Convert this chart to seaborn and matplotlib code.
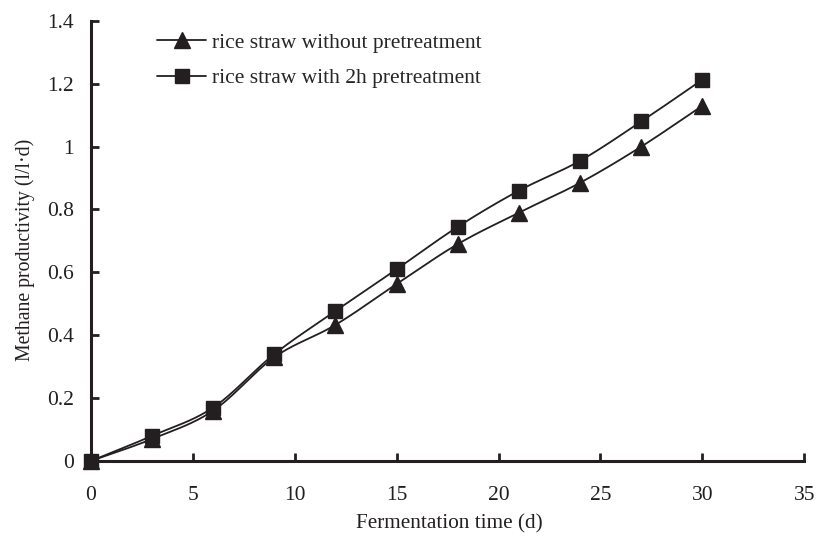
import numpy as np
import pandas as pd
import matplotlib
matplotlib.use("Agg")
import matplotlib.pyplot as plt
from matplotlib.lines import Line2D
import seaborn as sns

days = [0, 3, 6, 9, 12, 15, 18, 21, 24, 27, 30]
without_pretreatment = [0.0, 0.07, 0.16, 0.33, 0.433, 0.563, 0.69, 0.79, 0.885, 1.0, 1.13]
with_2h_pretreatment = [0.0, 0.08, 0.17, 0.34, 0.477, 0.61, 0.745, 0.86, 0.955, 1.08, 1.213]
labels = ["rice straw without pretreatment", "rice straw with 2h pretreatment"]
x_ticks = [0, 5, 10, 15, 20, 25, 30, 35]
y_ticks = [0, 0.2, 0.4, 0.6, 0.8, 1.0, 1.2, 1.4]
y_tick_labels = ["0", "0.2", "0.4", "0.6", "0.8", "1", "1.2", "1.4"]


def smooth(xs, ys, n=20):
    """Catmull-Rom curve through the points (spreadsheet-style smoothed line)."""
    x = np.asarray(xs, float)
    y = np.asarray(ys, float)
    px = np.concatenate([[2 * x[0] - x[1]], x, [2 * x[-1] - x[-2]]])
    py = np.concatenate([[2 * y[0] - y[1]], y, [2 * y[-1] - y[-2]]])
    outx, outy = [], []
    t = np.linspace(0, 1, n, endpoint=False)
    for i in range(1, len(px) - 2):
        for arr, out in ((px, outx), (py, outy)):
            p0, p1, p2, p3 = arr[i - 1], arr[i], arr[i + 1], arr[i + 2]
            seg = 0.5 * ((2 * p1) + (-p0 + p2) * t
                         + (2 * p0 - 5 * p1 + 4 * p2 - p3) * t ** 2
                         + (-p0 + 3 * p1 - 3 * p2 + p3) * t ** 3)
            out.extend(seg)
    outx.append(x[-1])
    outy.append(y[-1])
    return np.array(outx), np.array(outy)


sns.set_theme(style="ticks")
plt.rcParams["font.family"] = ["Liberation Serif", "DejaVu Serif"]

fig = plt.figure(figsize=(8.19, 5.36), dpi=100)
ax = fig.add_axes([0.111, 0.140, 0.871, 0.821])

color = "#231f20"
markers = ["^", "s"]
sizes = [11.5, 10]
for vals, mk, ms in zip([without_pretreatment, with_2h_pretreatment], markers, sizes):
    sx, sy = smooth(days, vals)
    sns.lineplot(x=sx, y=sy, ax=ax, color=color, linewidth=1.3, sort=False,
                 estimator=None)
    ax.plot(days, vals, linestyle="none", marker=mk, markersize=ms,
            color=color, markeredgecolor=color, clip_on=False, zorder=5)

ax.set_xlim(0, 35)
ax.set_ylim(0, 1.4)
ax.set_xticks(x_ticks)
ax.set_yticks(y_ticks)
ax.set_yticklabels(y_tick_labels)
ax.tick_params(direction="in", length=6, width=2, colors=color, labelsize=15.5)
ax.tick_params(axis="x", pad=18)
ax.tick_params(axis="y", pad=12)
for s in ("top", "right"):
    ax.spines[s].set_visible(False)
for s in ("left", "bottom"):
    ax.spines[s].set_linewidth(2.2)
    ax.spines[s].set_color(color)

ax.set_xlabel("Fermentation time (d)", fontsize=15.3, color=color)
ax.set_ylabel("Methane productivity (l/l·d)", fontsize=14.2, color=color)
ax.xaxis.set_label_coords(0.502, -0.12)
ax.yaxis.set_label_coords(-0.079, 0.48)

handles = [Line2D([0], [0], color=color, lw=1.3, marker=m, markersize=s)
           for m, s in zip(markers, sizes)]
ax.legend(handles, labels, loc="upper left", bbox_to_anchor=(0.0926, 0.973),
          frameon=False, fontsize=15.5, handlelength=2.3, handletextpad=0.25,
          labelspacing=0.72, borderpad=0, borderaxespad=0)

fig.savefig("out.png", dpi=100)
